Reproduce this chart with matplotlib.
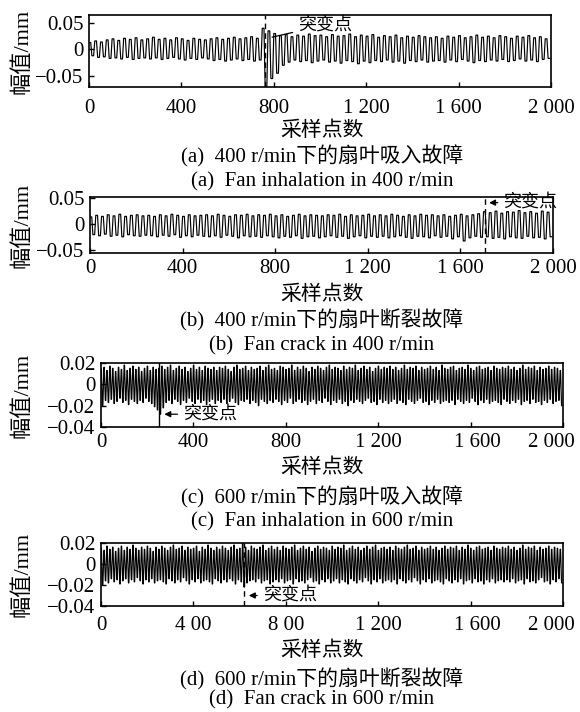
import numpy as np
import matplotlib
matplotlib.use("Agg")
import matplotlib.pyplot as plt
from matplotlib.transforms import ScaledTranslation

plt.rcParams['font.family'] = ['Liberation Serif', 'Noto Sans CJK SC']
plt.rcParams['font.size'] = 15
plt.rcParams['axes.unicode_minus'] = True

W, H = 580, 712

# per-cycle extrema, in 1e-3 mm
period_a = 25
peaks_a = [13, 16, 14, 18, 20, 17, 21, 19, 22, 18,
           20, 23, 19, 21, 18, 22, 20, 17, 21, 19,
           18, 20, 22, 19, 21, 23, 20, 22, 24, 21,
           40, 35, 30, 26, 28, 24, 27, 25, 29, 26,
           27, 24, 28, 25, 26, 29, 24, 27, 25, 28,
           23, 26, 24, 27, 22, 25, 23, 26, 24, 22,
           24, 21, 25, 23, 26, 22, 24, 27, 23, 25,
           22, 26, 24, 21, 25, 23, 26, 22, 24, 20]
troughs_a = [-12, -15, -14, -17, -16, -18, -15, -19, -17, -16,
             -18, -16, -19, -17, -15, -18, -20, -17, -19, -16,
             -18, -21, -19, -22, -20, -18, -21, -19, -22, -20,
             -70, -55, -45, -30, -24, -20, -23, -21, -25, -22,
             -20, -24, -22, -26, -21, -23, -27, -22, -25, -21,
             -23, -20, -24, -22, -26, -21, -23, -20, -24, -22,
             -21, -24, -20, -23, -19, -22, -25, -21, -23, -20,
             -22, -19, -23, -21, -18, -22, -20, -23, -19, -17]

period_b = 25
peaks_b = [14, 17, 15, 18, 16, 19, 15, 17, 18, 16,
           17, 15, 18, 16, 19, 17, 15, 18, 16, 17,
           18, 16, 19, 17, 15, 18, 17, 19, 16, 18,
           17, 19, 16, 18, 15, 17, 19, 16, 18, 17,
           16, 18, 17, 19, 15, 18, 16, 17, 19, 16,
           18, 16, 19, 17, 15, 18, 16, 19, 17, 18,
           16, 18, 15, 17, 19, 16, 18, 20, 24, 22,
           25, 21, 24, 23, 26, 22, 24, 21, 25, 23]
troughs_b = [-20, -22, -19, -23, -21, -24, -20, -22, -23, -21,
             -22, -24, -21, -23, -20, -25, -22, -24, -21, -23,
             -24, -22, -25, -21, -23, -26, -22, -24, -23, -25,
             -22, -24, -26, -23, -25, -22, -27, -24, -23, -26,
             -24, -22, -25, -23, -27, -24, -22, -26, -23, -25,
             -23, -26, -24, -22, -25, -27, -23, -24, -26, -22,
             -25, -23, -28, -24, -32, -26, -23, -25, -24, -27,
             -25, -28, -24, -26, -27, -23, -26, -25, -28, -24]

period_c = 12.5
peaks_c = [14, 16, 13, 17, 15, 12, 16, 14, 18, 13, 15, 17, 14, 16, 12, 15, 17, 13, 16, 14,
           15, 17, 14, 16, 18, 13, 15, 17, 14, 16, 12, 15, 18, 14, 16, 13, 17, 15, 14, 16,
           13, 16, 15, 17, 14, 12, 16, 18, 14, 15, 17, 13, 16, 14, 15, 17, 13, 16, 18, 14,
           15, 13, 17, 16, 14, 15, 18, 13, 16, 14, 17, 15, 12, 16, 14, 17, 15, 13, 16, 18,
           14, 16, 15, 13, 17, 14, 16, 15, 18, 13, 15, 17, 14, 16, 12, 15, 17, 14, 16, 15,
           17, 14, 16, 13, 15, 18, 14, 16, 15, 17, 13, 16, 14, 15, 17, 14, 16, 13, 18, 15,
           14, 16, 17, 13, 15, 16, 14, 18, 15, 13, 16, 17, 14, 15, 16, 13, 17, 15, 14, 16,
           15, 17, 14, 16, 13, 15, 18, 14, 16, 15, 17, 13, 16, 14, 15, 17, 14, 16, 15, 13]
troughs_c = [-20, -15, -17, -14, -18, -16, -13, -17, -15, -19, -14, -16, -18, -15, -17, -13, -16, -18, -21, -24,
             -28, -22, -17, -15, -18, -14, -16, -19, -15, -17, -13, -16, -18, -14, -17, -15, -19, -16, -14, -18,
             -15, -17, -14, -18, -16, -13, -17, -19, -15, -16, -14, -18, -15, -17, -20, -14, -16, -18, -15, -17,
             -14, -16, -19, -15, -17, -13, -18, -16, -14, -17, -15, -19, -16, -14, -18, -15, -17, -13, -16, -19,
             -15, -17, -14, -18, -16, -20, -15, -17, -14, -16, -18, -15, -13, -17, -16, -19, -14, -17, -15, -18,
             -16, -14, -18, -15, -17, -19, -14, -16, -18, -15, -13, -17, -16, -19, -15, -17, -14, -18, -16, -15,
             -17, -15, -19, -14, -16, -18, -15, -17, -13, -16, -19, -15, -17, -14, -18, -16, -15, -17, -19, -14,
             -16, -18, -15, -17, -14, -19, -16, -15, -18, -14, -17, -16, -19, -15, -17, -14, -18, -16, -15, -20]

period_d = 12.5
peaks_d = [15, 13, 17, 14, 16, 12, 15, 17, 13, 16, 14, 18, 15, 13, 16, 14, 17, 15, 12, 16,
           14, 17, 15, 13, 16, 18, 14, 15, 17, 13, 16, 14, 15, 17, 12, 16, 14, 18, 15, 13,
           16, 14, 17, 15, 13, 16, 18, 14, 15, 20, 16, 13, 17, 15, 14, 16, 18, 13, 15, 17,
           14, 16, 13, 17, 15, 14, 16, 18, 13, 15, 17, 14, 16, 12, 15, 17, 14, 16, 15, 13,
           17, 14, 16, 15, 18, 13, 15, 17, 14, 16, 13, 15, 17, 14, 16, 18, 13, 15, 16, 14,
           16, 13, 17, 15, 14, 16, 18, 14, 15, 17, 13, 16, 14, 15, 17, 14, 16, 13, 15, 17,
           14, 16, 15, 17, 13, 16, 14, 18, 15, 13, 16, 17, 14, 15, 16, 13, 17, 15, 14, 16,
           15, 17, 14, 16, 13, 15, 18, 14, 16, 15, 17, 13, 16, 14, 15, 17, 14, 16, 15, 14]
troughs_d = [-20, -16, -18, -14, -17, -15, -19, -16, -14, -18, -15, -17, -13, -16, -19, -15, -17, -14, -18, -16,
             -15, -17, -19, -14, -16, -18, -15, -17, -13, -16, -19, -15, -17, -14, -18, -16, -15, -17, -19, -14,
             -16, -18, -15, -17, -14, -16, -19, -15, -17, -22, -18, -16, -15, -17, -14, -18, -16, -15, -19, -17,
             -15, -17, -14, -18, -16, -15, -19, -14, -17, -16, -18, -15, -13, -17, -16, -19, -15, -17, -14, -18,
             -16, -14, -18, -15, -17, -19, -14, -16, -18, -15, -17, -13, -16, -19, -15, -17, -14, -18, -16, -15,
             -17, -15, -19, -14, -16, -18, -15, -17, -13, -16, -19, -15, -17, -14, -18, -16, -15, -17, -19, -14,
             -16, -18, -15, -17, -14, -19, -16, -15, -18, -14, -17, -16, -19, -15, -17, -14, -18, -16, -15, -17,
             -15, -17, -14, -18, -16, -15, -19, -14, -17, -16, -18, -15, -13, -17, -16, -19, -15, -17, -14, -18]

x_ticks = [0, 400, 800, 1200, 1600, 2000]
x_labels = ["0", "400", "800", "1 200", "1 600", "2 000"]
x_labels_d = ["0", "4 00", "8 00", "1 200", "1 600", "2 000"]
y_ticks_ab = [0.05, 0, -0.05]
y_labels_ab = ["0.05", "0", "\u22120.05"]
y_ticks_cd = [0.02, 0, -0.02, -0.04]
y_labels_cd = ["0.02", "0", "\u22120.02", "\u22120.04"]

change_x = [760, 1705, 250, 620]   # 突变点 positions

captions = [("(a)  400 r/min下的扇叶吸入故障", "(a)  Fan inhalation in 400 r/min"),
            ("(b)  400 r/min下的扇叶断裂故障", "(b)  Fan crack in 400 r/min"),
            ("(c)  600 r/min下的扇叶吸入故障", "(c)  Fan inhalation in 600 r/min"),
            ("(d)  600 r/min下的扇叶断裂故障", "(d)  Fan crack in 600 r/min")]


def wave(peaks, troughs, period, flat):
    # each cycle: hold the peak, drop, hold the trough
    n = len(peaks)
    idx = np.arange(n) * period
    x = np.empty(4 * n)
    y = np.empty(4 * n)
    x[0::4] = idx
    x[1::4] = idx + period * flat
    x[2::4] = idx + period * 0.5
    x[3::4] = idx + period * (0.5 + flat)
    y[0::4] = peaks
    y[1::4] = peaks
    y[2::4] = troughs
    y[3::4] = troughs
    return x, y * 1e-3


def px_axes(fig, left, top, right, bottom):
    return fig.add_axes([left / W, 1 - bottom / H, (right - left) / W, (bottom - top) / H])


fig = plt.figure(figsize=(W / 100, H / 100), dpi=100)

# pixel boxes: left, top, right, bottom
boxes = [(89, 15, 551, 87), (90, 197, 553, 253), (101, 363, 563, 427), (101, 543, 563, 606)]
ylims = [(-0.071, 0.065), (-0.055, 0.052), (-0.04, 0.02), (-0.04, 0.02)]
series = [(peaks_a, troughs_a, period_a, 0.3), (peaks_b, troughs_b, period_b, 0.3),
          (peaks_c, troughs_c, period_c, 0.15), (peaks_d, troughs_d, period_d, 0.15)]
text_y = [(131, 156, 182), (295, 320, 346), (468, 497, 522), (651, 679, 700)]
xpads = [8.3, 4, 4, 7]

for k in range(4):
    ax = px_axes(fig, *boxes[k])
    x, y = wave(*series[k])
    ax.plot(x, y, color='black', lw=0.85)
    ax.set_xlim(0, 2000)
    ax.set_ylim(*ylims[k])
    ax.set_xticks(x_ticks)
    ax.set_xticklabels(x_labels_d if k == 3 else x_labels)
    if k < 2:
        ax.set_yticks(y_ticks_ab)
        ax.set_yticklabels(y_labels_ab)
    else:
        ax.set_yticks(y_ticks_cd)
        ax.set_yticklabels(y_labels_cd)
    ax.tick_params(direction='in', length=3.5, width=1, labelsize=15)
    ax.tick_params(axis='x', pad=xpads[k])
    ax.tick_params(axis='y', pad=4)
    for s in ax.spines.values():
        s.set_linewidth(1.2)

    if k >= 2:
        # last labels sit a little off their ticks in the original
        lbls = ax.get_xticklabels()
        lbls[-1].set_transform(lbls[-1].get_transform() + ScaledTranslation(-0.12, 0, fig.dpi_scale_trans))
        lbls[-2].set_transform(lbls[-2].get_transform() + ScaledTranslation(0.07, 0, fig.dpi_scale_trans))

    ls = '-' if k == 2 else (0, (4, 3))
    ax.axvline(change_x[k], color='black', lw=1, ls=ls)

    if k == 0:
        ax.annotate("突变点", xy=(781, 0.022), xytext=(905, 0.046),
                    fontsize=13, va='center', ha='left',
                    arrowprops=dict(arrowstyle='-', color='black', lw=0.9))
    elif k == 1:
        ax.annotate("突变点", xy=(1712, 0.041), xytext=(1785, 0.042),
                    fontsize=13, va='center', ha='left',
                    arrowprops=dict(arrowstyle='-|>', color='black', lw=0.9, mutation_scale=9))
    elif k == 2:
        ax.annotate("突变点", xy=(262, -0.028), xytext=(355, -0.028),
                    fontsize=13, va='center', ha='left',
                    arrowprops=dict(arrowstyle='-|>', color='black', lw=0.9, mutation_scale=9))
    else:
        ax.annotate("突变点", xy=(628, -0.03), xytext=(700, -0.03),
                    fontsize=13, va='center', ha='left',
                    arrowprops=dict(arrowstyle='-|>', color='black', lw=0.9, mutation_scale=9))

    fig.text(22 / W, 1 - (boxes[k][1] + boxes[k][3]) / 2 / H, "幅值/mm",
             rotation=90, ha='center', va='center', fontsize=16)
    fig.text(322 / W, 1 - text_y[k][0] / H, "采样点数", ha='center', va='center', fontsize=15)
    fig.text(322 / W, 1 - text_y[k][1] / H, captions[k][0], ha='center', va='center', fontsize=15)
    fig.text(322 / W, 1 - text_y[k][2] / H, captions[k][1], ha='center', va='center', fontsize=15)

fig.savefig("out.png", dpi=100)
